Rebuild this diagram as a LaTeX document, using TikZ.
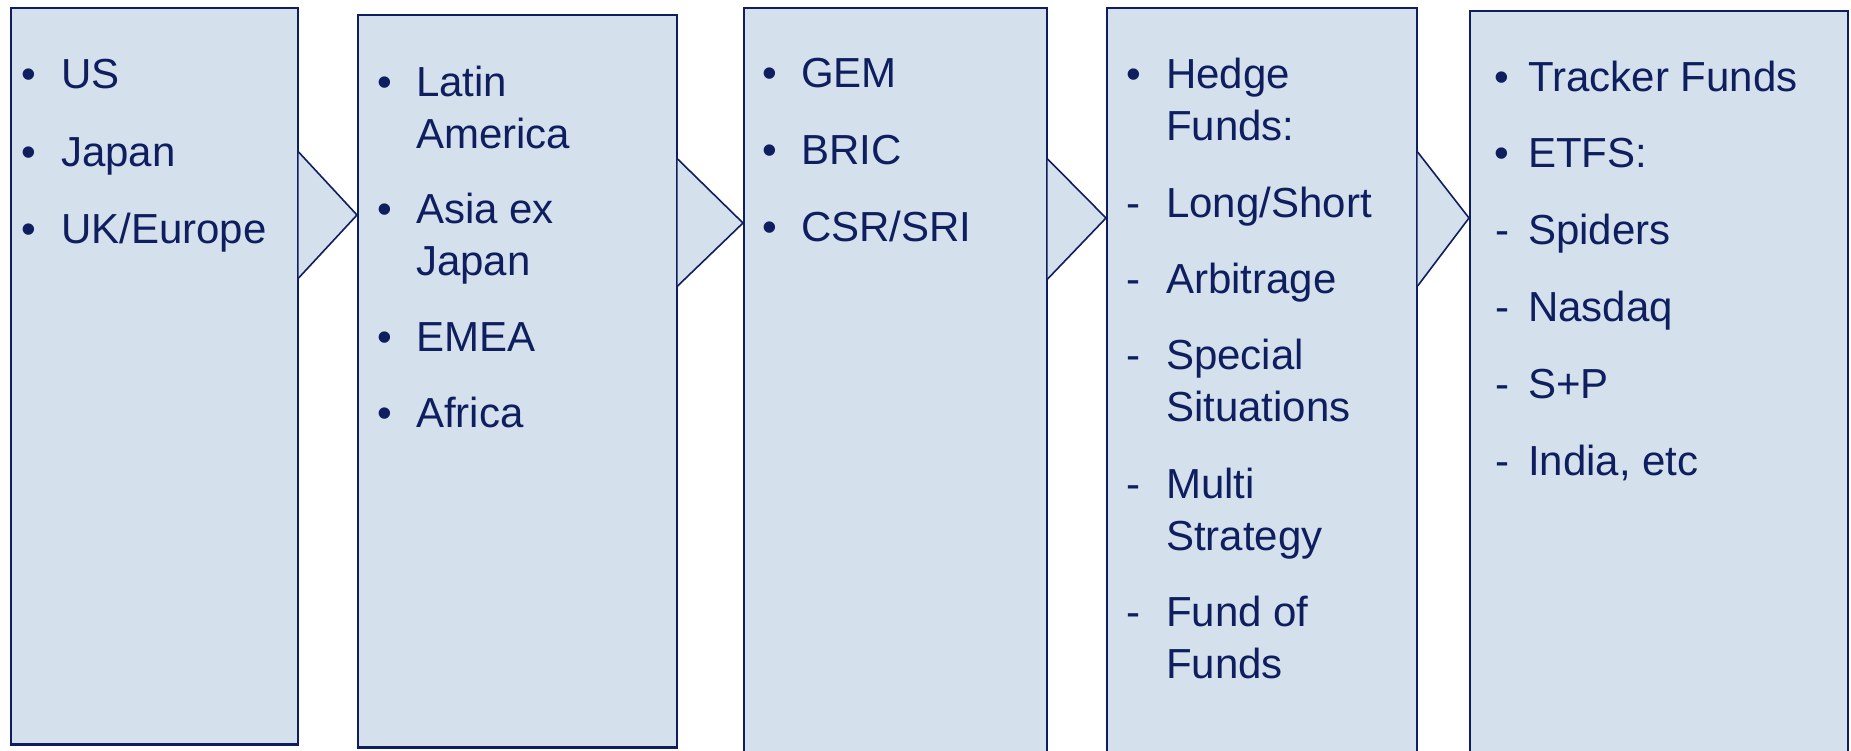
\documentclass[tikz,border=0pt]{standalone}
\usepackage{fontspec}
\setmainfont{Liberation Sans}
\usetikzlibrary{calc}
\definecolor{navy}{HTML}{0E1E5E}
\definecolor{boxfill}{HTML}{D4E0EC}
\begin{document}
\begin{tikzpicture}[x=1pt,y=-1pt,
  box/.style={draw=navy,fill=boxfill,line width=1.6pt,rectangle,inner sep=0pt,anchor=north west},
  chev/.style={draw=navy,fill=boxfill,line width=1.6pt,line join=miter},
  txt/.style={anchor=base west,inner sep=0pt,text=navy,font=\fontsize{42}{50}\selectfont},
  bul/.style={anchor=base,inner sep=0pt,text=navy,font=\fontsize{42}{50}\selectfont}]
\useasboundingbox (0,0) rectangle (1851,750);
% boxes
\node[box,minimum width=287pt,minimum height=736pt] (b1) at (10,7) {};
\node[box,minimum width=319pt,minimum height=732pt] (b2) at (357,14) {};
\node[box,minimum width=303pt,minimum height=760pt] (b3) at (743,7) {};
\node[box,minimum width=310pt,minimum height=760pt] (b4) at (1106,7) {};
\node[box,minimum width=378pt,minimum height=760pt] (b5) at (1469,10) {};
\draw[navy,line width=3pt] (b1.south west) -- (b1.south east);
\draw[navy,line width=3pt] (b2.south west) -- (b2.south east);
% chevrons
\draw[chev] ($(b1.north east)+(0,145)$) -- ($(b2.north west)+(0,201)$) -- ($(b1.north east)+(0,271)$);
\draw[chev] ($(b2.north east)+(0,145)$) -- ($(b3.north west)+(0,216)$) -- ($(b2.north east)+(0,272)$);
\draw[chev] ($(b3.north east)+(0,152)$) -- ($(b4.north west)+(0,211)$) -- ($(b3.north east)+(0,272)$);
\draw[chev] ($(b4.north east)+(0,145)$) -- ($(b5.north west)+(0,208)$) -- ($(b4.north east)+(0,279)$);
% box 1
\node[bul] (m11) at (29,88) {\textbullet};
\node[txt] (t11) at (61,88) {US};
\node[bul] (m12) at (29,166) {\textbullet};
\node[txt] (t12) at (61,166) {Japan};
\node[bul] (m13) at (29,243) {\textbullet};
\node[txt] (t13) at (61,243) {UK/Europe};
% box 2
\node[bul] (m21) at (385,96) {\textbullet};
\node[txt] (t21a) at (416,96) {Latin};
\node[txt] (t21b) at (416,148) {America};
\node[bul] (m22) at (385,223) {\textbullet};
\node[txt] (t22a) at (416,223) {Asia ex};
\node[txt] (t22b) at (416,275) {Japan};
\node[bul] (m23) at (385,351) {\textbullet};
\node[txt] (t23) at (416,351) {EMEA};
\node[bul] (m24) at (385,427) {\textbullet};
\node[txt] (t24) at (416,427) {Africa};
% box 3
\node[bul] (m31) at (770,87) {\textbullet};
\node[txt] (t31) at (801,87) {GEM};
\node[bul] (m32) at (770,164) {\textbullet};
\node[txt] (t32) at (801,164) {BRIC};
\node[bul] (m33) at (770,241) {\textbullet};
\node[txt] (t33) at (801,241) {CSR/SRI};
% box 4
\node[bul] (m41) at (1134,88) {\textbullet};
\node[txt] (t41a) at (1166,88) {Hedge};
\node[txt] (t41b) at (1166,140) {Funds:};
\node[bul] (m42) at (1133,217) {-};
\node[txt] (t42) at (1166,217) {Long/Short};
\node[bul] (m43) at (1133,293) {-};
\node[txt] (t43) at (1166,293) {Arbitrage};
\node[bul] (m44) at (1133,369) {-};
\node[txt] (t44a) at (1166,369) {Special};
\node[txt] (t44b) at (1166,421) {Situations};
\node[bul] (m45) at (1133,498) {-};
\node[txt] (t45a) at (1166,498) {Multi};
\node[txt] (t45b) at (1166,550) {Strategy};
\node[bul] (m46) at (1133,626) {-};
\node[txt] (t46a) at (1166,626) {Fund of};
\node[txt] (t46b) at (1166,678) {Funds};
% box 5
\node[bul] (m51) at (1502,91) {\textbullet};
\node[txt] (t51) at (1528,91) {Tracker Funds};
\node[bul] (m52) at (1502,167) {\textbullet};
\node[txt] (t52) at (1528,167) {ETFS:};
\node[bul] (m53) at (1502,244) {-};
\node[txt] (t53) at (1528,244) {Spiders};
\node[bul] (m54) at (1502,321) {-};
\node[txt] (t54) at (1528,321) {Nasdaq};
\node[bul] (m55) at (1502,398) {-};
\node[txt] (t55) at (1528,398) {S+P};
\node[bul] (m56) at (1502,475) {-};
\node[txt] (t56) at (1528,475) {India, etc};
\end{tikzpicture}
\end{document}
